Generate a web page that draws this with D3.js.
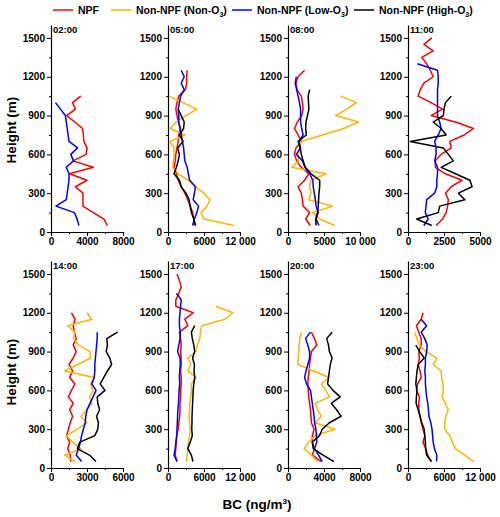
<!DOCTYPE html>
<html>
<head>
<meta charset="utf-8">
<script src="https://cdn.jsdelivr.net/npm/d3@7"></script>
<style>
body{margin:0;background:#fff}
svg{font-family:"Liberation Sans",Arial,sans-serif;font-weight:bold}
</style>
</head>
<body>
<div id="chart"></div>
<script>
// heights of the profile levels (m), from the ground up
var H = [50,100,150,200,250,300,350,400,450,500,550,600,650,700,750,800,850,900,950,1000,
         1050,1100,1150,1200,1250,1300,1350,1400,1450,1500];

var times = ["02:00","05:00","08:00","11:00","14:00","17:00","20:00","23:00"];
var xMax = [8000,12000,10000,5000,6000,12000,8000,12000];
var xTickVals = [[0,4000,8000],[0,6000,12000],[0,5000,10000],[0,2500,5000],
                 [0,3000,6000],[0,6000,12000],[0,4000,8000],[0,6000,12000]];
var yTickVals = [0,300,600,900,1200,1500];

var seriesNames = ["NPF","Non-NPF (Non-O","Non-NPF (Low-O","Non-NPF (High-O"];
var colors = ["#ff0000","#ffb400","#0000ff","#000000"];

// BC values (ng/m3) per panel, listed from 50 m upwards
var npf = [
  [6250,5900,4700,3550,3550,3550,2700,4000,2050,4700,2450,3900,4000,3650,3600,3500,2650,1750,2700,2400,3300],
  [4400,4300,4100,3700,3300,2800,2200,1700,1400,1000,1200,1300,1500,1700,1800,2100,1700,1500,1300,1500,1800,2900,3100,3100,3200],
  [3100,2450,3000,2100,2000,1850,1400,2300,2900,1850,1200,900,1100,1850,1400,900,1300,1900,2100,2000,1850,1250,1100,1400,2300],
  [1950,2400,2650,2750,2800,2600,3000,3750,2600,1900,1900,2300,3000,2900,3900,4550,3300,1600,2400,1600,700,850,1100,1750,1550,1300,950,1750,1100,1650],
  [1650,1600,1400,1550,1300,1450,1600,1800,1550,1850,1450,1700,2000,1550,1800,1500,1850,2100,1850,2100,1950,1850,2000,1700],
  [1500,1200,1300,1400,1450,1700,1800,1950,2000,2000,2100,2100,2200,2200,2100,2200,2200,2100,2200,2100,1900,3300,2800,4200,1300,1300,1800,2200,1900,1500],
  [3700,2700,2950,2700,2700,2900,2600,2550,2500,2400,2300,2250,2200,2250,2350,2400,2500,2600,3200,2950,2600],
  [3900,3300,2950,2500,2800,2500,2200,2000,1800,1800,1900,1400,1600,2200,2000,1700,1900,1800,2200,2200,1800,1400,2200,2500]
];
var nonO3 = [
  null,
  [11000,6000,5500,6500,7000,6000,4500,3400,1700,800,900,1000,1000,300,2800,400,1300,3000,4800,2500,200],
  [6500,4400,3400,6200,2900,3200,3000,3200,5300,500,1500,1400,1600,1800,4800,7700,9800,6600,8200,9500,7300],
  null,
  [2000,1150,2500,1800,1300,2200,3000,2500,3000,3400,3200,3500,3300,3600,1150,2200,3300,3250,2300,1850,2000,1400,3400,3000],
  [3050,3200,3300,3400,3600,3700,3600,3500,3600,3600,3800,3900,3900,4700,3300,3800,3300,4600,4900,5300,5400,5600,9500,10800,8000],
  [3300,2600,1800,2300,3000,5200,3000,3700,3300,3000,4600,4200,3700,4600,2850,1100,1150,1200,1250,1300,1500],
  [10900,9500,7900,7400,7000,6100,6100,6300,6700,6200,5700,5900,5800,5600,5500,4200,4800,3000,1900,1500,1100]
];
var lowO3 = [
  [3100,2900,2600,550,1700,1800,1900,2000,2000,1700,2500,2200,2950,2000,1900,1800,1700,1600,1050,500],
  [4100,4400,4800,5100,4200,4400,4600,3600,3400,3200,2800,2700,2600,2400,2200,2000,1800,1800,1700,1900,2100,2700,2200,2700,2200],
  [4300,3900,4200,3900,3800,3650,3500,3450,3000,2350,2000,1150,1750,1500,2100,1900,1750,1750,1750,1600,1400,1200,1000,1150],
  [1100,1400,1200,1250,1300,1850,2000,2000,2050,2050,1850,1950,1950,1850,2100,2300,2200,2050,2050,2050,2050,2050,2100,2100,2050,650],
  [2550,2100,2300,2450,2550,2700,2850,2900,3000,3250,3500,3750,3400,3600,3650,3650,3700,3750,3800,3850,3850],
  [1500,1000,1200,1300,1450,1500,1550,1600,1650,1750,1800,1850,1950,1900,1950,2050,2000,1600,1800,2000,2050,1900,1900,2000,2100,2200,1400],
  [3800,3400,2950,3200,3150,3100,2950,2900,2800,2700,2600,2500,2050,1850,2000,2200,2400,2400,2200,1950,2500],
  [4750,4800,4400,4200,4100,4000,3800,3500,3400,3300,3100,3000,2900,2900,2800,2900,2900,3100,3200,2800,2200,3100,2200]
];
var highO3 = [
  null,
  [4600,4300,3900,3700,3500,3000,2200,1900,1000,1400,1700,1900,1600,2500,1900,2600,2700,2200,1700],
  [3900,3850,4100,4200,4250,4300,4400,4400,3200,2400,2100,1850,1700,1400,2550,2450,2500,2700,2900,2850,2800,3000],
  [1650,600,2100,2200,3950,3500,4450,4300,3300,2300,3150,2800,2450,150,2650,2300,1750,2450,2500,2600,3000],
  [3750,3200,2200,2400,3650,3900,3950,3800,4050,3900,3850,4500,4100,4400,4700,5050,4900,4600,4700,4650,5550],
  [4150,3900,3300,3700,4050,3950,4000,4000,4050,4100,4150,4200,4300,4450,4350,4400,4100,4450,4300,4050,3900,4450],
  [5100,3900,2800,2700,3500,3800,4600,5900,5400,4800,5800,5000,4400,4500,4600,4700,4900,4600,4500,4300,4900],
  [3900,3100,2950,2900,2800,2700,2300,2000,1700,1350,1400,1500,1300,1400,1500,1700,2700,1950,1300]
];

var W = 500, Ht = 517;
var panelLeft = [51,168,288,408];
var rowBottom = [232,468];
var pw = 72, ph = 207;

var svg = d3.select("#chart").append("svg")
    .attr("width", W).attr("height", Ht);

// 12000 -> "12 000", smaller numbers without separator
function fmt(d){
  var s = String(d);
  if (d >= 10000) s = s.slice(0, s.length-3) + " " + s.slice(-3);
  return s;
}

var allSeries = [npf, nonO3, lowO3, highO3];

times.forEach(function(t, i){
  var col = i % 4, row = Math.floor(i / 4);
  var g = svg.append("g")
      .attr("transform", `translate(${panelLeft[col]},${rowBottom[row]-ph})`);

  var x = d3.scaleLinear().domain([0, xMax[i]]).range([0, pw]);
  var y = d3.scaleLinear().domain([0, 1600]).range([ph, 0]);

  // minor ticks
  var xt = xTickVals[i];
  var xMinor = [];
  for (var k = 0; k < xt.length-1; k++) xMinor.push((xt[k]+xt[k+1])/2);
  g.append("g").attr("transform", `translate(0,${ph})`)
    .call(d3.axisBottom(x).tickValues(xMinor).tickSize(2).tickSizeOuter(0).tickFormat(""))
    .call(a => a.select(".domain").remove());
  g.append("g")
    .call(d3.axisLeft(y).tickValues([150,450,750,1050,1350]).tickSize(2).tickSizeOuter(0).tickFormat(""))
    .call(a => a.select(".domain").remove());

  // major axes
  var xa = g.append("g").attr("transform", `translate(0,${ph})`)
    .call(d3.axisBottom(x).tickValues(xt).tickSize(4).tickSizeOuter(0).tickPadding(2).tickFormat(fmt));
  var ya = g.append("g")
    .call(d3.axisLeft(y).tickValues(yTickVals).tickSize(4).tickSizeOuter(0).tickPadding(2).tickFormat(fmt));
  [xa, ya].forEach(function(a){
    a.attr("font-family", null).attr("font-size", null);
    a.selectAll("text").attr("font-size", "10px").attr("fill", "#000");
    a.select(".domain").attr("stroke-width", 1.2);
  });

  // profiles
  allSeries.forEach(function(s, j){
    var vals = s[i];
    if (!vals) return;
    var pts = vals.map((v, k) => ({h: H[k], v: v}));
    g.append("path")
      .datum(pts)
      .attr("fill", "none")
      .attr("stroke", colors[j])
      .attr("stroke-width", 1.5)
      .attr("stroke-linejoin", "round")
      .attr("d", d3.line().x(d => x(d.v)).y(d => y(d.h)));
  });

  g.append("text")
    .attr("x", 2).attr("y", 8)
    .attr("font-size", "9.5px")
    .text(t);
});

// y titles
[130, 372].forEach(function(cy){
  svg.append("text")
    .attr("transform", `translate(16,${cy}) rotate(-90)`)
    .attr("text-anchor", "middle")
    .attr("font-size", "13.5px")
    .text("Height (m)");
});

// x title
var xt = svg.append("text")
  .attr("x", 257).attr("y", 509)
  .attr("text-anchor", "middle")
  .attr("font-size", "13.5px")
  .text("BC (ng/m");
xt.append("tspan").attr("dy", -5).attr("font-size", "8px").text("3");
xt.append("tspan").attr("dy", 5).text(")");

// legend
var legX = [53,111,232,354];
seriesNames.forEach(function(n, j){
  var lg = svg.append("g").attr("transform", `translate(${legX[j]},10)`);
  lg.append("line").attr("x1", 0).attr("x2", 20).attr("y1", 0).attr("y2", 0)
    .attr("stroke", colors[j]).attr("stroke-width", 1.5);
  var tx = lg.append("text").attr("x", 25).attr("y", 4).attr("font-size", "10.5px").text(n);
  if (j > 0) {
    tx.append("tspan").attr("dy", 3).attr("font-size", "7px").text("3");
    tx.append("tspan").attr("dy", -3).text(")");
  }
});
</script>
</body>
</html>
